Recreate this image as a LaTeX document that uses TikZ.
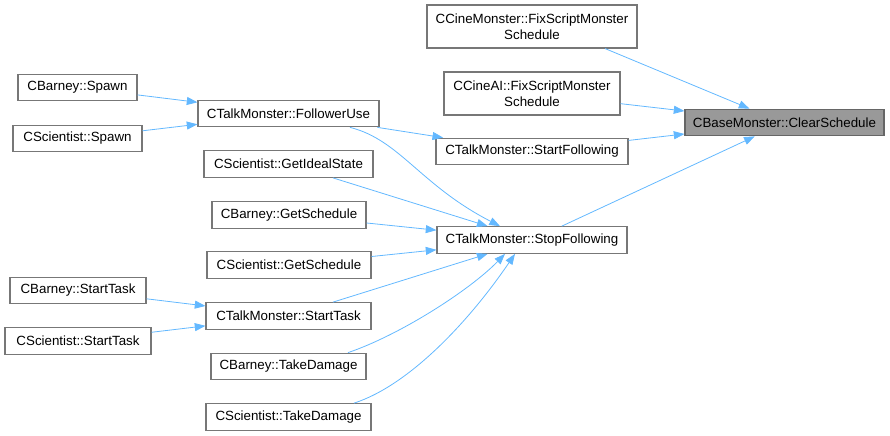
\documentclass[tikz,border=0pt]{standalone}
\usepackage{fontspec}
\setmainfont{Liberation Sans}
\usetikzlibrary{arrows.meta, calc}

\definecolor{edgeblue}{HTML}{63B8FF}
\definecolor{boxline}{HTML}{777777}
\definecolor{hlfill}{HTML}{999999}

\begin{document}
\begin{tikzpicture}[
    x=0.75pt, y=-0.75pt,
    font=\fontsize{10}{12}\selectfont,
    fn/.style={draw=boxline, line width=0.8pt, fill=white, align=center,
               inner sep=0pt, minimum height=20pt},
    hl/.style={fn, fill=hlfill, draw=black!60},
    call/.style={draw=edgeblue, line width=0.6pt,
                 -{Triangle[length=8pt, width=6pt]}},
]
\useasboundingbox (0,0) rectangle (890,436);

% ── callee (highlighted) ────────────────────────────────────────────────────
\node[hl, minimum width=149.25pt] (clear) at (784.5,122.5) {CBaseMonster::ClearSchedule};

% ── direct callers ──────────────────────────────────────────────────────────
\node[fn, minimum width=157.5pt, minimum height=32.25pt] (cinemon) at (532,26.5)
    {CCineMonster::FixScriptMonster\\Schedule};
\node[fn, minimum width=132pt, minimum height=32.25pt] (cineai) at (532,93.5)
    {CCineAI::FixScriptMonster\\Schedule};
\node[fn, minimum width=144pt] (startfol) at (532,151.5) {CTalkMonster::StartFollowing};
\node[fn, minimum width=142.5pt] (stopfol) at (532,240) {CTalkMonster::StopFollowing};

% ── middle column ───────────────────────────────────────────────────────────
\node[fn, minimum width=135.75pt] (follow) at (288.5,113.5) {CTalkMonster::FollowerUse};
\node[fn, minimum width=126.75pt] (ideal) at (288.5,164) {CScientist::GetIdealState};
\node[fn, minimum width=115.5pt] (bsched) at (289,215) {CBarney::GetSchedule};
\node[fn, minimum width=123pt] (ssched) at (289,265) {CScientist::GetSchedule};
\node[fn, minimum width=123.75pt] (talktask) at (288.5,316) {CTalkMonster::StartTask};
\node[fn, minimum width=116.25pt] (bdamage) at (288.5,366.5) {CBarney::TakeDamage};
\node[fn, minimum width=123.75pt] (sdamage) at (288.5,417) {CScientist::TakeDamage};

% ── left column ─────────────────────────────────────────────────────────────
\node[fn, minimum width=89.25pt] (bspawn) at (77.5,87.5) {CBarney::Spawn};
\node[fn, minimum width=96.75pt] (sspawn) at (77.5,138.5) {CScientist::Spawn};
\node[fn, minimum width=102pt] (bstask) at (78,290.5) {CBarney::StartTask};
\node[fn, minimum width=109.5pt] (sstask) at (78,341) {CScientist::StartTask};

% ── edges ───────────────────────────────────────────────────────────────────
\draw[call] ($(cinemon.south)+(73,0)$) -- ($(clear.north)+(-35,0)$);
\draw[call] (cineai) -- (clear);
\draw[call] (startfol) -- (clear);
\draw[call] (stopfol) -- (clear);

\draw[call] (bspawn) -- (follow);
\draw[call] (sspawn) -- (follow);
\draw[call] (follow) -- (startfol);
\draw[call] ($(follow.south)+(61.5,0)$) .. controls (400,140) and (420,185) .. ($(stopfol.north)+(-32,0)$);

\draw[call] (ideal) -- (stopfol);
\draw[call] (bsched) -- (stopfol);
\draw[call] (ssched) -- (stopfol);
\draw[call] (talktask) -- (stopfol);
\draw[call] ($(bdamage.north)+(59.5,0)$) .. controls (400,335) and (470,290) .. ($(stopfol.south)+(-27,0)$);
\draw[call] ($(sdamage.north)+(65.5,0)$) .. controls (410,385) and (470,320) .. ($(stopfol.south)+(-17,0)$);

\draw[call] (bstask) -- (talktask);
\draw[call] (sstask) -- (talktask);

\end{tikzpicture}
\end{document}
